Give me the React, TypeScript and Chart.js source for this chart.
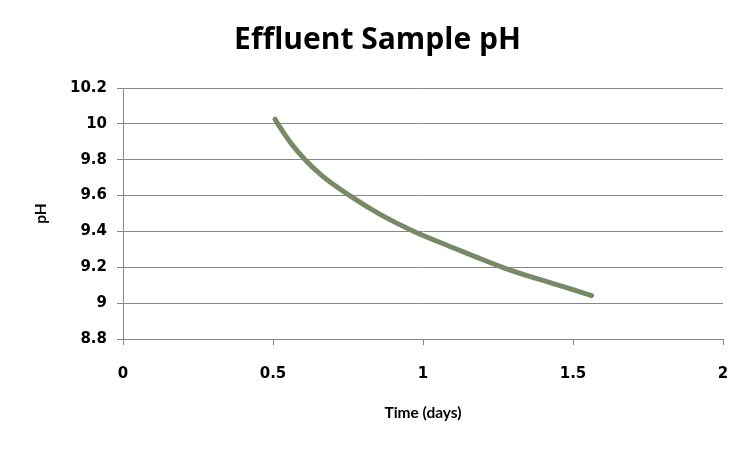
import { useEffect, useRef } from "react";
import { Chart, registerables } from "chart.js";

Chart.register(...registerables);

// readings (time in days, pH)
const timeDays = [0.507, 0.516, 0.56, 0.607, 0.664, 0.757, 0.857, 0.97, 1.09, 1.18, 1.265, 1.35, 1.423, 1.5, 1.562];
const phValues = [10.026, 10.0, 9.892, 9.8, 9.71, 9.598, 9.495, 9.4, 9.316, 9.255, 9.2, 9.152, 9.115, 9.075, 9.042];
const xTicks = [0, 0.5, 1, 1.5, 2];
const yTicks = [8.8, 9, 9.2, 9.4, 9.6, 9.8, 10, 10.2];

const TITLE_FONT = "'Open Sans', Lato, sans-serif";
const LABEL_FONT = "Lato, 'Open Sans', sans-serif";
const TICK_FONT = "'DejaVu Sans', Verdana, sans-serif";
const GRID = "#878787";

export default function App() {
  const canvasRef = useRef<HTMLCanvasElement>(null);

  useEffect(() => {
    document.body.style.margin = "0";
    if (!canvasRef.current) return;

    const chart = new Chart(canvasRef.current, {
      type: "line",
      data: {
        datasets: [
          {
            label: "pH",
            data: timeDays.map((t, i) => ({ x: t, y: phValues[i] })),
            borderColor: "#778a66",
            borderWidth: 5,
            pointRadius: 0,
            cubicInterpolationMode: "monotone",
            borderCapStyle: "round",
          },
        ],
      },
      options: {
        animation: false,
        responsive: false,
        devicePixelRatio: 1,
        layout: { padding: { left: 32, right: 28, bottom: 30 } },
        plugins: {
          legend: { display: false },
          tooltip: { enabled: false },
          title: {
            display: true,
            text: "Effluent Sample pH",
            color: "#000",
            font: { family: TITLE_FONT, size: 30, weight: "bold" },
            padding: { top: 22, bottom: 30 },
          },
        },
        scales: {
          x: {
            type: "linear",
            min: 0,
            max: 2,
            afterBuildTicks: (s: any) => {
              s.ticks = xTicks.map((v) => ({ value: v }));
            },
            afterFit: (s: any) => {
              s.height = 83;
            },
            ticks: {
              color: "#000",
              font: { family: TICK_FONT, size: 15, weight: "bold" },
              padding: 20,
              maxRotation: 0,
              callback: (v: any) => String(v),
            },
            grid: { drawOnChartArea: false, color: GRID, tickLength: 6 },
            border: { color: GRID },
            title: {
              display: true,
              text: "Time (days)",
              color: "#000",
              font: { family: LABEL_FONT, size: 15.5, weight: "bold" },
              padding: { top: 14, bottom: 0 },
            },
          },
          y: {
            min: 8.8,
            max: 10.2,
            afterBuildTicks: (s: any) => {
              s.ticks = yTicks.map((v) => ({ value: v }));
            },
            afterFit: (s: any) => {
              s.width = 91;
            },
            ticks: {
              color: "#000",
              font: { family: TICK_FONT, size: 15, weight: "bold" },
              padding: 10,
              callback: (v: any) => String(Math.round(v * 10) / 10),
            },
            grid: { color: GRID, tickLength: 6 },
            border: { color: GRID },
            title: {
              display: true,
              text: "pH",
              color: "#000",
              font: { family: LABEL_FONT, size: 15.5, weight: "bold" },
              padding: { top: 0, bottom: 4 },
            },
          },
        },
      },
    });

    return () => chart.destroy();
  }, []);

  return (
    <div style={{ width: 751, height: 452, background: "#fff" }}>
      <canvas ref={canvasRef} width={751} height={452} />
    </div>
  );
}
